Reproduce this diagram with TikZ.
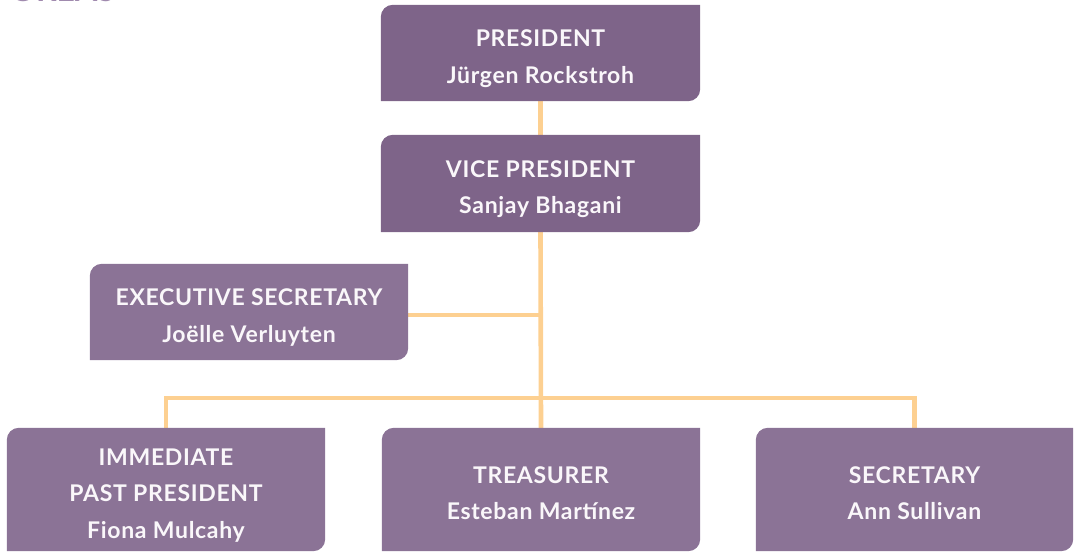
\documentclass[tikz,border=0pt]{standalone}
\usepackage{fontspec}
\setmainfont{Lato}
\newfontfamily\rolefont{Lato}[LetterSpace=3]
\usetikzlibrary{calc}

\definecolor{topbox}{RGB}{126,100,137}
\definecolor{lowbox}{RGB}{139,115,150}
\definecolor{linkline}{RGB}{253,208,145}
\definecolor{headline}{RGB}{160,138,174}
\definecolor{boxtext}{RGB}{250,247,250}

\pgfdeclarelayer{links}
\pgfdeclarelayer{panels}
\pgfsetlayers{links,panels,main}

\tikzset{
  role/.style={
    inner sep=0pt, align=center, text=boxtext,
    font=\rolefont\fontsize{23}{36.5}\selectfont\bfseries,
    text depth=4pt
  },
  twolines/.style={role, text height=64.5pt},
  threelines/.style={role, text height=101pt},
  link/.style={draw=linkline, line width=4.6pt, line join=miter},
}

% panel with rounded top-left and bottom-right corners
\newcommand\orgpanel[2]{%
  \fill[#2] (#1.south west) -- ([yshift=-12pt]#1.north west)
    arc[start angle=180,end angle=90,radius=12pt] -- (#1.north east)
    -- ([yshift=12pt]#1.south east)
    arc[start angle=0,end angle=-90,radius=12pt] -- cycle;}

\begin{document}
\begin{tikzpicture}[x=1pt,y=1pt]
  \useasboundingbox (0,0) rectangle (1075,-551);
  \clip (0,0) rectangle (1075,-551);

  % heading running off the top edge
  \node[anchor=base east, inner sep=0pt, text=headline,
        font=\fontsize{32}{32}\selectfont\bfseries] (heading) at (115,-2) {OREAS};

  \node[twolines, minimum width=319pt, minimum height=96pt] (pres) at (540.5,-53)
    {PRESIDENT\\Jürgen Rockstroh};
  \node[twolines, minimum width=319pt, minimum height=97pt] (vp) at (540.5,-183.5)
    {VICE PRESIDENT\\Sanjay Bhagani};
  \node[twolines, minimum width=318pt, minimum height=96pt] (exec) at (249,-312)
    {EXECUTIVE SECRETARY\\Joëlle Verluyten};
  \node[threelines, minimum width=318pt, minimum height=123pt] (imm) at (166,-489.5)
    {IMMEDIATE\\PAST PRESIDENT\\Fiona Mulcahy};
  \node[twolines, minimum width=318pt, minimum height=123pt] (tre) at (541,-489.5)
    {TREASURER\\Esteban Martínez};
  \node[twolines, minimum width=317pt, minimum height=123pt] (sec) at (914.5,-489.5)
    {SECRETARY\\Ann Sullivan};

  \coordinate (bus) at (541,-398);

  \begin{pgfonlayer}{panels}
    \orgpanel{pres}{topbox}
    \orgpanel{vp}{topbox}
    \orgpanel{exec}{lowbox}
    \orgpanel{imm}{lowbox}
    \orgpanel{tre}{lowbox}
    \orgpanel{sec}{lowbox}
  \end{pgfonlayer}

  \begin{pgfonlayer}{links}
    \draw[link] (pres.south) -- (vp.north);
    \draw[link] (vp.south) -- (tre.north);
    \draw[link] ([yshift=-3pt]exec.east) -- ([yshift=-3pt]exec.east -| vp.south);
    \draw[link] (imm.north) -- (imm.north |- bus) -- (sec.north |- bus) -- (sec.north);
  \end{pgfonlayer}
\end{tikzpicture}
\end{document}
